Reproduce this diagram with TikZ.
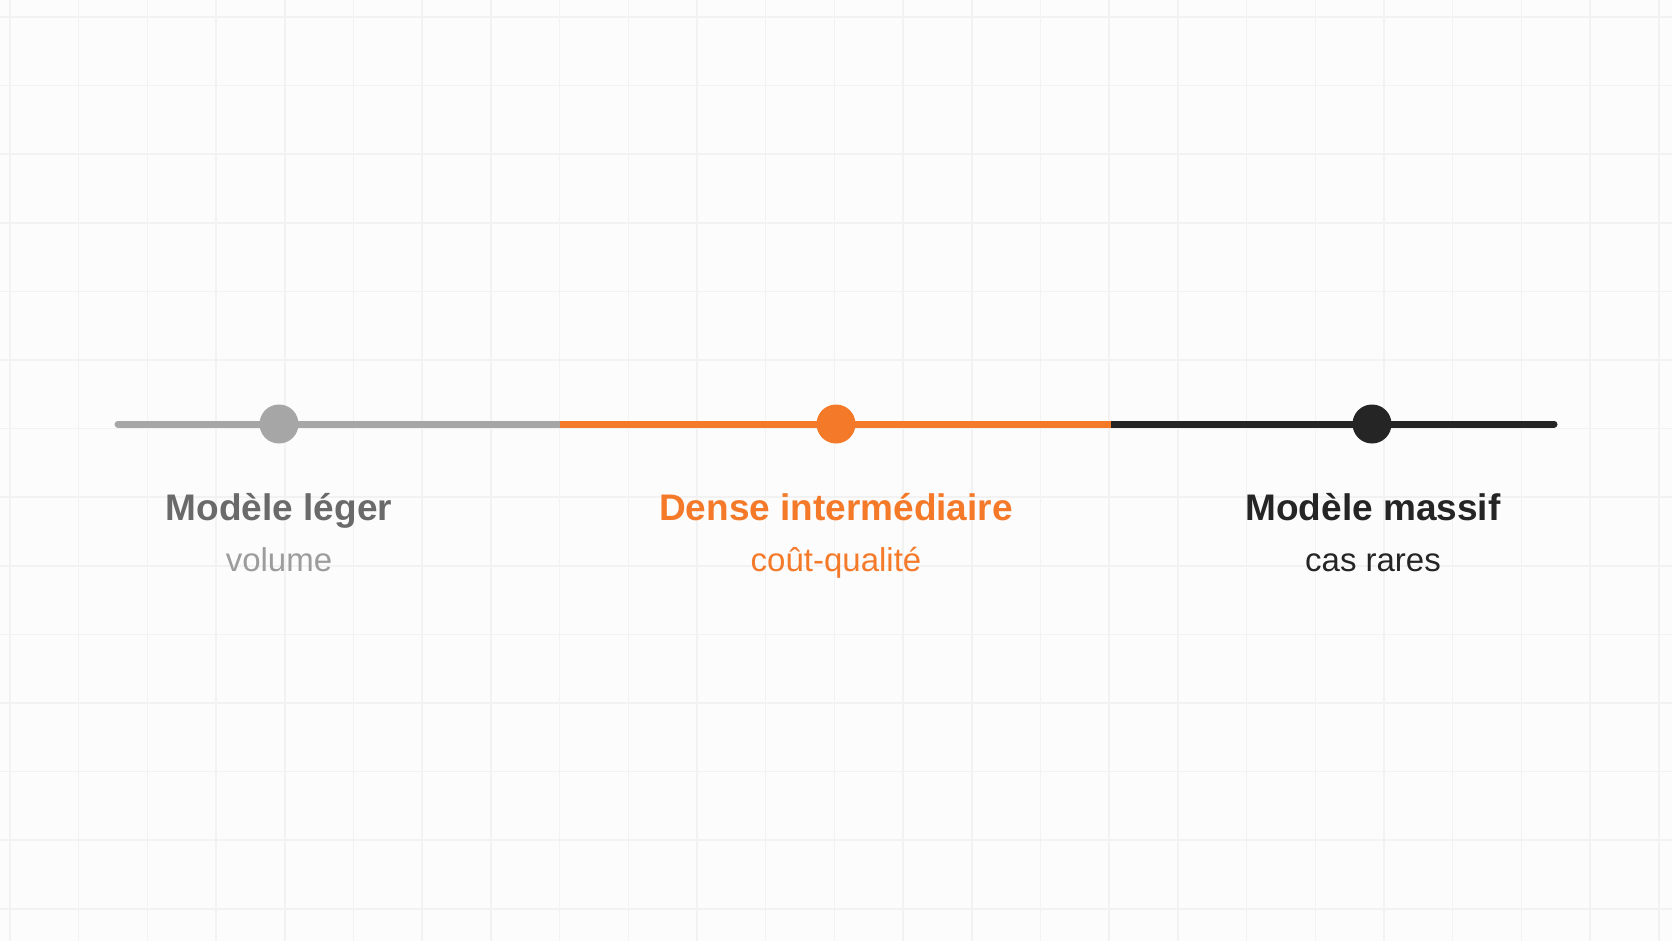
\documentclass[tikz,border=0pt]{standalone}
\usepackage{fontspec}
\setmainfont{Liberation Sans}
\definecolor{bgc}{HTML}{FCFCFC}
\definecolor{gridc}{HTML}{F2F2F2}
\definecolor{grayline}{HTML}{A6A6A6}
\definecolor{graytitle}{HTML}{6A6A6A}
\definecolor{graysub}{HTML}{9C9C9C}
\definecolor{orangec}{HTML}{F47A2A}
\definecolor{darkc}{HTML}{252525}
\begin{document}
\begin{tikzpicture}[x=1pt,y=-1pt,
  seg/.style={line width=7pt},
  dot/.style={circle,minimum size=39pt,inner sep=0pt},
  title/.style={anchor=base,font=\fontsize{37}{40}\selectfont\bfseries},
  sub/.style={anchor=base,font=\fontsize{33}{36}\selectfont}]
\fill[bgc] (0,0) rectangle (1672,941);
\useasboundingbox (0,0) rectangle (1672,941);
\foreach \k in {0,...,24} {\draw[gridc,line width=1.5pt] ({10+68.7*\k},0) -- ({10+68.7*\k},941);}
\foreach \k in {0,...,13} {\draw[gridc,line width=1.5pt] (0,{17+68.6*\k}) -- (1672,{17+68.6*\k});}
\coordinate (L) at (118,424);
\coordinate (B1) at (560,424);
\coordinate (B2) at (1111,424);
\coordinate (R) at (1554,424);
\draw[seg,grayline,line cap=round] (L) -- (B1);
\draw[seg,darkc,line cap=round] (B2) -- (R);
\draw[seg,orangec] (B1) -- (B2);
\node[dot,fill=grayline] (d1) at (279,424) {};
\node[dot,fill=orangec] (d2) at (836,424) {};
\node[dot,fill=darkc] (d3) at (1372,424) {};
\node[title,text=graytitle] (t1) at (279,520) {Modèle léger};
\node[sub,text=graysub] (s1) at (279,571) {volume};
\node[title,text=orangec] (t2) at (836,520) {Dense intermédiaire};
\node[sub,text=orangec] (s2) at (836,571) {coût-qualité};
\node[title,text=darkc] (t3) at (1373,520) {Modèle massif};
\node[sub,text=darkc] (s3) at (1373,571) {cas rares};
\end{tikzpicture}
\end{document}
